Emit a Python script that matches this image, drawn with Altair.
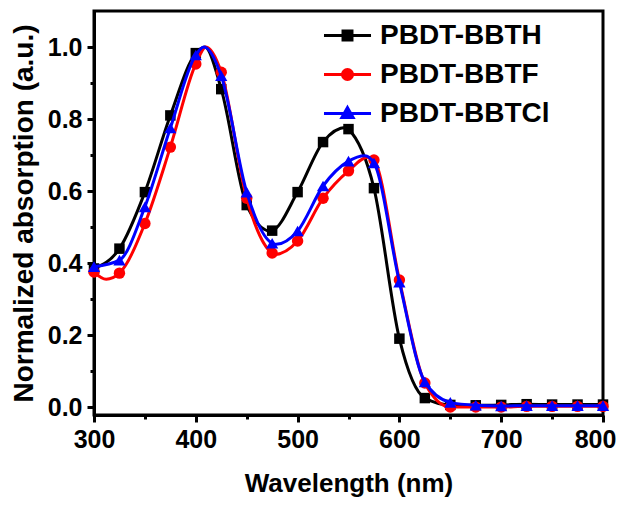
import altair as alt
import pandas as pd

series_names = ["PBDT-BBTH", "PBDT-BBTF", "PBDT-BBTCl"]
colors = ["#000000", "#ff0000", "#0000ff"]
shapes = ["square", "circle", "triangle-up"]
marker_sizes = [110, 130, 150]

# marker positions (every 25 nm)
wl = [300, 325, 350, 375, 400, 425, 450, 475, 500, 525, 550,
      575, 600, 625, 650, 675, 700, 725, 750, 775, 800]
bbth = [0.385, 0.440, 0.597, 0.810, 0.983, 0.883, 0.561, 0.490, 0.597, 0.736, 0.772,
        0.608, 0.190, 0.025, 0.006, 0.005, 0.006, 0.008, 0.007, 0.007, 0.007]
bbtf = [0.375, 0.372, 0.510, 0.722, 0.953, 0.930, 0.580, 0.428, 0.461, 0.580, 0.656,
        0.686, 0.353, 0.067, 0.000, 0.000, 0.000, 0.002, 0.002, 0.002, 0.002]
bbtcl = [0.390, 0.408, 0.556, 0.775, 0.978, 0.920, 0.597, 0.455, 0.489, 0.614, 0.683,
         0.678, 0.347, 0.070, 0.013, 0.005, 0.003, 0.004, 0.004, 0.004, 0.004]

# extra points (peaks and troughs)
bbth_extra_wl = [409, 473, 548]
bbth_extra_v = [1.000, 0.489, 0.777]
bbtf_extra_wl = [312, 410, 478, 569]
bbtf_extra_v = [0.355, 1.000, 0.424, 0.694]
bbtcl_extra_wl = [408, 479, 566]
bbtcl_extra_v = [1.000, 0.452, 0.698]

all_vals = [bbth, bbtf, bbtcl]
extras = [(bbth_extra_wl, bbth_extra_v), (bbtf_extra_wl, bbtf_extra_v), (bbtcl_extra_wl, bbtcl_extra_v)]

marker_rows = []
line_rows = []
for name, vals, (ew, ev) in zip(series_names, all_vals, extras):
    pts = []
    for w, v in zip(wl, vals):
        marker_rows.append({"series": name, "wl": w, "v": v})
        pts.append((w, v))
    for w, v in zip(ew, ev):
        pts.append((w, v))
    pts.sort()
    for w, v in pts:
        line_rows.append({"series": name, "wl": w, "v": v})

markers_df = pd.DataFrame(marker_rows)
line_df = pd.DataFrame(line_rows)

FONT = "Liberation Sans"

x_scale = alt.Scale(domain=[300, 800], nice=False, zero=False)
y_scale = alt.Scale(domain=[-0.022, 1.1], nice=False, zero=False)

x_axis = alt.Axis(
    values=list(range(300, 801, 50)),
    labelExpr="datum.value % 100 == 0 ? datum.label : ''",
    tickSize={"condition": {"test": "datum.value % 100 == 0", "value": 7}, "value": 4},
    labelOffset={"condition": {"test": "datum.value == 800", "value": -8}, "value": 0},
    title="Wavelength (nm)",
    titleFontSize=26,
    labelFontSize=25,
    labelPadding=5,
    titlePadding=18,
    labelFlush=False,
    labelOverlap=False,
    grid=False,
)
y_axis = alt.Axis(
    values=[round(i * 0.1, 1) for i in range(11)],
    labelExpr="round(datum.value * 10) % 2 == 0 ? format(datum.value, '.1f') : ''",
    tickSize={"condition": {"test": "round(datum.value * 10) % 2 == 0", "value": 7}, "value": 4},
    title="Normalized absorption (a.u.)",
    titleFontSize=28,
    labelFontSize=25,
    labelPadding=5,
    titlePadding=9,
    labelFlush=False,
    labelOverlap=False,
    grid=False,
)

layers = []
for name, c, shp, sz in zip(series_names, colors, shapes, marker_sizes):
    ln = alt.Chart(line_df).transform_filter(alt.datum.series == name).mark_line(
        interpolate="monotone", color=c, strokeWidth=3
    ).encode(
        x=alt.X("wl:Q", scale=x_scale, axis=x_axis),
        y=alt.Y("v:Q", scale=y_scale, axis=y_axis),
    )
    pt = alt.Chart(markers_df).transform_filter(alt.datum.series == name).mark_point(
        filled=True, color=c, shape=shp, size=sz, opacity=1
    ).encode(
        x=alt.X("wl:Q", scale=x_scale, axis=x_axis),
        y=alt.Y("v:Q", scale=y_scale, axis=y_axis),
    )
    layers += [ln, pt]

# legend symbols: line segment + marker
legend_paths = [
    "M-1.68,0H1.68M-0.32,-0.32H0.32V0.32H-0.32Z",
    "M-1.68,0H1.68M-0.36,0A0.36,0.36,0,1,0,0.36,0A0.36,0.36,0,1,0,-0.36,0Z",
    "M-1.68,0H1.68M0,-0.42L0.4,0.28H-0.4Z",
]
legend_df = pd.DataFrame({"series": series_names, "wl": [1000] * 3, "v": [0.5] * 3})
legend_layer = alt.Chart(legend_df).mark_point(
    clip=True, filled=True, size=784, strokeWidth=3, opacity=1
).encode(
    x=alt.X("wl:Q", scale=x_scale, axis=x_axis),
    y=alt.Y("v:Q", scale=y_scale, axis=y_axis),
    fill=alt.Fill("series:N", scale=alt.Scale(domain=series_names, range=colors), legend=alt.Legend(title=None)),
    stroke=alt.Stroke("series:N", scale=alt.Scale(domain=series_names, range=colors), legend=alt.Legend(title=None)),
    shape=alt.Shape("series:N", scale=alt.Scale(domain=series_names, range=legend_paths), legend=alt.Legend(title=None)),
)
layers.append(legend_layer)

chart = alt.layer(*layers).properties(
    width=509,
    height=404,
    padding={"left": 86, "top": 3, "right": 14, "bottom": 85},
    autosize=alt.AutoSizeParams(type="none"),
).configure_view(
    stroke="#000000", strokeWidth=3
).configure_axis(
    labelFont=FONT, titleFont=FONT,
    labelFontWeight="bold", titleFontWeight="bold",
    labelColor="#000000", titleColor="#000000",
    domainColor="#000000", domainWidth=3,
    tickColor="#000000", tickWidth=3,
).configure_legend(
    orient="none", legendX=238, legendY=9,
    symbolSize=784, symbolStrokeWidth=3,
    labelFont=FONT, labelFontWeight="bold", labelFontSize=28, labelColor="#000000",
    labelOffset=17, rowPadding=9, padding=0, labelLimit=0,
)

chart.save("out.html", embed_options={"renderer": "svg", "actions": False})
